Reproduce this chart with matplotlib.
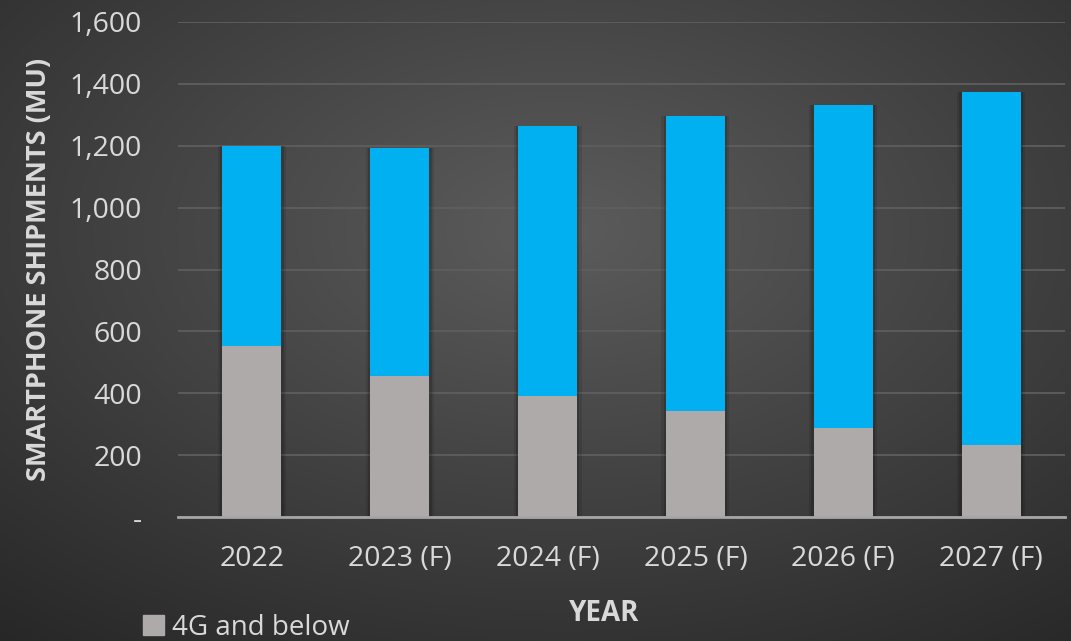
import numpy as np
import matplotlib.pyplot as plt
from matplotlib.patches import Patch

# smartphone shipments, millions of units
years = ['2022', '2023 (F)', '2024 (F)', '2025 (F)', '2026 (F)', '2027 (F)']
below_4g = [552, 455, 391, 344, 289, 234]
total = [1200, 1194, 1264, 1297, 1332, 1374]
fiveg = [t - b for t, b in zip(total, below_4g)]
yticks = [0, 200, 400, 600, 800, 1000, 1200, 1400, 1600]

plt.rcParams['font.family'] = ['Open Sans', 'DejaVu Sans']

fig = plt.figure(figsize=(10.71, 6.41), dpi=100)

# radial dark-grey backdrop
bg = fig.add_axes([0, 0, 1, 1], zorder=-10)
yy, xx = np.mgrid[0:641, 0:1071]
r = np.sqrt(((xx - 560) / 1071) ** 2 + ((yy - 230) / 641) ** 2)
shade = np.clip(0.36 - 0.25 * r, 0.15, 0.36)
bg.imshow(np.dstack([shade] * 3), extent=[0, 1, 0, 1], aspect='auto')
bg.axis('off')

ax = fig.add_axes([0.1662, 0.1934, 0.8282, 0.7723])
ax.patch.set_alpha(0)

x = np.arange(len(years))
# soft shadow behind each stacked column
for w, a in [(0.46, 0.10), (0.43, 0.15)]:
    ax.bar(x, total, width=w, color='black', alpha=a, zorder=2, linewidth=0)
ax.bar(x, below_4g, width=0.4, color='#AEAAAA', zorder=3, linewidth=0)
ax.bar(x, fiveg, width=0.4, bottom=below_4g, color='#00B0F0', zorder=3, linewidth=0)

ax.set_xlim(-0.5, len(years) - 0.5)
ax.set_ylim(0, 1600)
ax.set_yticks(yticks)
ax.set_yticklabels(['-' if v == 0 else f'{v:,}' for v in yticks])
ax.set_xticks(x)
ax.set_xticklabels(years)
ax.tick_params(axis='both', length=0, colors='#D9D9D9', labelsize=20.5)
ax.tick_params(axis='y', pad=26)
ax.tick_params(axis='x', pad=20)

ax.grid(axis='y', color='#5E5E5E', linewidth=1.3, zorder=0)
for s in ['top', 'right', 'left']:
    ax.spines[s].set_visible(False)
ax.spines['bottom'].set_color('#A6A6A6')
ax.spines['bottom'].set_linewidth(2)
ax.spines['bottom'].set_zorder(4)

ax.set_ylabel('SMARTPHONE SHIPMENTS (MU)', color='#D9D9D9', fontsize=19.5,
              fontweight='bold')
ax.yaxis.set_label_coords(-0.142, 0.5)
ax.set_xlabel('YEAR', color='#D9D9D9', fontsize=20, fontweight='bold')
ax.xaxis.set_label_coords(0.48, -0.165)

fig.legend(handles=[Patch(color='#AEAAAA', label='4G and below')],
           loc='lower left', bbox_to_anchor=(0.11, -0.04), frameon=False,
           fontsize=20, labelcolor='#D9D9D9', handlelength=0.75, handleheight=0.75,
           handletextpad=0.3)

fig.savefig('out.png', dpi=100)
